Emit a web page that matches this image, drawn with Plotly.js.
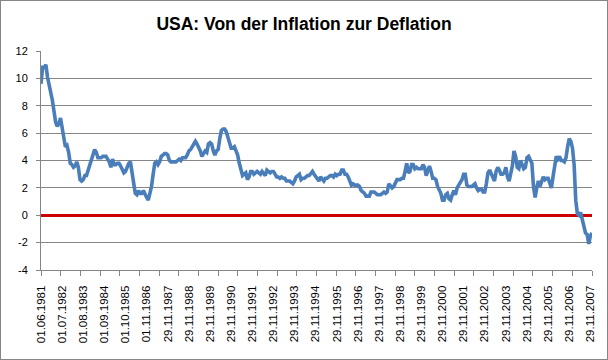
<!DOCTYPE html>
<html>
<head>
<meta charset="utf-8">
<script src="https://cdn.plot.ly/plotly-3.0.1.min.js"></script>
<style>
  html, body { margin: 0; padding: 0; background: #fff; }
  #chart { width: 606px; height: 358px; border: 1px solid #868686; }
</style>
</head>
<body>
<div id="chart"></div>
<script>
// Monthly year-on-year inflation rate (%), June 1981 onwards
const inflation = [
  // 1981 (Jun-Dec)
  9.6, 10.8, 10.8, 11.0, 10.1, 9.6, 8.9,
  // 1982
  8.4, 7.6, 6.8, 6.5, 6.7, 7.1, 6.4, 5.9, 5.0, 5.1, 4.6, 3.8,
  // 1983
  3.7, 3.5, 3.6, 3.9, 3.5, 2.6, 2.5, 2.6, 2.9, 2.9, 3.3, 3.8,
  // 1984
  4.2, 4.6, 4.8, 4.6, 4.2, 4.2, 4.2, 4.3, 4.3, 4.3, 4.1, 3.9,
  // 1985
  3.5, 4.1, 3.7, 3.7, 3.8, 3.8, 3.6, 3.3, 3.1, 3.2, 3.5, 3.8,
  // 1986
  3.9, 3.1, 2.2, 1.6, 1.5, 1.8, 1.6, 1.6, 1.8, 1.5, 1.3, 1.1,
  // 1987
  1.5, 2.1, 3.0, 3.8, 3.9, 3.7, 3.9, 4.3, 4.4, 4.5, 4.5, 4.4,
  // 1988
  4.0, 3.9, 3.9, 3.9, 3.9, 4.0, 4.1, 4.0, 4.2, 4.2, 4.2, 4.4,
  // 1989
  4.7, 4.8, 5.0, 5.1, 5.4, 5.2, 5.0, 4.7, 4.3, 4.5, 4.7, 4.6,
  // 1990
  5.2, 5.3, 5.2, 4.7, 4.4, 4.7, 4.8, 5.6, 6.2, 6.3, 6.3, 6.1,
  // 1991
  5.7, 5.3, 4.9, 4.9, 5.0, 4.7, 4.4, 3.8, 3.4, 2.9, 3.0, 3.1,
  // 1992
  2.6, 2.8, 3.2, 3.2, 3.0, 3.1, 3.2, 3.1, 3.0, 3.2, 3.0, 2.9,
  // 1993
  3.3, 3.2, 3.1, 3.2, 3.2, 3.0, 2.8, 2.8, 2.7, 2.8, 2.7, 2.7,
  // 1994
  2.5, 2.5, 2.5, 2.4, 2.3, 2.5, 2.8, 2.9, 3.0, 2.6, 2.7, 2.7,
  // 1995
  2.8, 2.9, 2.9, 3.1, 3.2, 3.0, 2.8, 2.6, 2.5, 2.8, 2.6, 2.5,
  // 1996
  2.7, 2.7, 2.8, 2.9, 2.9, 2.8, 3.0, 2.9, 3.0, 3.0, 3.3, 3.3,
  // 1997
  3.0, 3.0, 2.8, 2.5, 2.2, 2.3, 2.2, 2.2, 2.2, 2.1, 1.8, 1.7,
  // 1998
  1.6, 1.4, 1.4, 1.4, 1.7, 1.7, 1.7, 1.6, 1.5, 1.5, 1.5, 1.6,
  // 1999
  1.7, 1.6, 1.7, 2.3, 2.1, 2.0, 2.1, 2.3, 2.6, 2.6, 2.6, 2.7,
  // 2000
  2.7, 3.2, 3.8, 3.1, 3.2, 3.7, 3.7, 3.4, 3.5, 3.4, 3.4, 3.4,
  // 2001
  3.7, 3.5, 2.9, 3.3, 3.6, 3.2, 2.7, 2.7, 2.6, 2.1, 1.9, 1.6,
  // 2002
  1.1, 1.1, 1.5, 1.6, 1.2, 1.1, 1.5, 1.8, 1.5, 2.0, 2.2, 2.4,
  // 2003
  2.6, 3.0, 3.0, 2.2, 2.1, 2.1, 2.1, 2.2, 2.3, 2.0, 1.8, 1.9,
  // 2004
  1.9, 1.7, 1.7, 2.3, 3.1, 3.3, 3.0, 2.7, 2.5, 3.2, 3.5, 3.3,
  // 2005
  3.0, 3.0, 3.1, 3.5, 2.8, 2.5, 3.2, 3.6, 4.7, 4.3, 3.5, 3.4,
  // 2006
  4.0, 3.6, 3.4, 3.5, 4.2, 4.3, 4.1, 3.8, 2.1, 1.3, 2.0, 2.5,
  // 2007
  2.1, 2.4, 2.8, 2.6, 2.7, 2.7, 2.4, 2.0, 2.8, 3.5, 4.3, 4.1,
  // 2008
  4.3, 4.0, 4.0, 3.9, 4.2, 5.0, 5.6, 5.4, 4.9, 3.7, 1.1, 0.1,
  // 2009 (Jan-Sep)
  0.0, 0.2, -0.4, -0.7, -1.3, -1.4, -2.1, -1.5, -1.3
];

// Category labels shown on the horizontal axis (one every 13 data points)
const tickLabels = [
  "01.06.1981", "01.07.1982", "01.08.1983", "01.09.1984", "01.10.1985",
  "01.11.1986", "29.11.1987", "29.11.1988", "29.11.1989", "29.11.1990",
  "29.11.1991", "29.11.1992", "29.11.1993", "29.11.1994", "29.11.1995",
  "29.11.1996", "29.11.1997", "29.11.1998", "29.11.1999", "29.11.2000",
  "29.11.2001", "29.11.2002", "29.11.2003", "29.11.2004", "29.11.2005",
  "29.11.2006", "29.11.2007"
];
const labelEvery = 13;
const yTicks = [-4, -2, 0, 2, 4, 6, 8, 10, 12];

const xIdx = inflation.map((_, i) => i);
const lastIdx = inflation.length - 1;
const tickVals = tickLabels.map((_, k) => k * labelEvery);

const trace = {
  x: xIdx,
  y: inflation,
  type: 'scatter',
  mode: 'lines',
  line: { color: '#4A7EBB', width: 3.6 },
  hoverinfo: 'y'
};

const gray = '#868686';
const layout = {
  width: 606,
  height: 358,
  margin: { l: 40, r: 15, t: 50, b: 89 },
  paper_bgcolor: '#ffffff',
  plot_bgcolor: '#ffffff',
  showlegend: false,
  title: {
    text: 'USA: Von der Inflation zur Deflation',
    font: { family: '"Liberation Sans Narrow", "Liberation Sans", Arial, sans-serif', size: 17.5, color: '#000000', weight: 'bold' },
    x: 0.5, xref: 'container', xanchor: 'center',
    y: 0.935, yref: 'container', yanchor: 'middle'
  },
  xaxis: {
    type: 'linear',
    range: [0, lastIdx],
    tickmode: 'array',
    tickvals: tickVals,
    ticktext: tickLabels,
    tickangle: -90,
    ticks: '',
    ticklabelstandoff: 10,
    tickfont: { family: '"Liberation Sans", Arial, sans-serif', size: 11.5, color: '#000000' },
    showgrid: false,
    zeroline: false,
    showline: true,
    linecolor: gray,
    linewidth: 1,
    minor: {
      tickmode: 'linear',
      tick0: 0,
      dtick: lastIdx / 28,
      ticks: 'outside',
      ticklen: 5,
      tickcolor: gray,
      tickwidth: 1,
      showgrid: false
    },
    fixedrange: true
  },
  yaxis: {
    range: [-4, 12],
    tickmode: 'array',
    tickvals: yTicks,
    ticktext: yTicks.map(String),
    ticks: 'outside',
    ticklen: 4,
    tickcolor: gray,
    ticklabelstandoff: 6,
    tickfont: { family: '"Liberation Sans", Arial, sans-serif', size: 11, color: '#000000' },
    showgrid: true,
    gridcolor: gray,
    gridwidth: 1,
    zeroline: true,
    zerolinecolor: '#CC0000',
    zerolinewidth: 2.5,
    showline: true,
    linecolor: gray,
    linewidth: 1,
    fixedrange: true
  }
};

Plotly.newPlot('chart', [trace], layout, { displayModeBar: false, staticPlot: true });
</script>
</body>
</html>
